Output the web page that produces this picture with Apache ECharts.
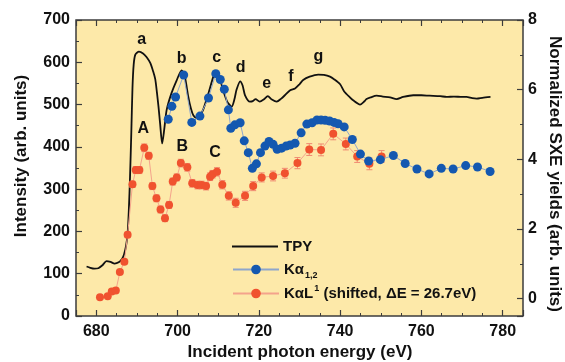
<!DOCTYPE html>
<html><head><meta charset="utf-8">
<script src="https://cdn.jsdelivr.net/npm/echarts@6/dist/echarts.min.js"></script>
<style>html,body{margin:0;padding:0;background:#fff}#c{width:565px;height:362px}</style>
</head><body><div id="c"></div>
<script>
// ---- data ----
const tpyEnergy = [677.6,678.5,679.5,680.5,681.5,682.5,683.5,684.5,685.5,686.3,686.8,687.3,687.7,688.0,688.3,688.6,688.9,689.2,689.6,690.5,691.5,692.4,693.3,694.0,694.5,694.9,695.3,695.7,696.2,696.7,697.3,698.5,699.8,701.0,701.8,702.6,703.3,703.9,704.7,705.5,706.3,707.6,708.8,709.4,710.2,711.2,712.2,713.3,714.0,714.5,715.4,716.0,716.6,717.8,718.5,719.2,720.2,721.2,722.2,723.2,724.4,725.5,726.4,727.7,728.9,730.0,730.9,732.5,734.6,736.0,737.5,738.5,740.0,741.0,742.4,743.2,744.9,746.0,746.5,747.5,749.0,750.5,752.3,753.9,755.5,758.0,760.0,762.0,764.6,766.2,768.0,770.0,771.1,772.5,773.6,775.0,777.0];
const tpyIntensity = [117,114,112,113,120,130,128,124,127,135,145,165,195,250,330,430,540,595,618,625,621,612,598,578,560,530,495,455,408,440,487,527,558,581,565,520,490,474,468,474,488,527,566,577,568,534,507,495,513,535,555,545,522,507,508,513,507,512,520,512,507,514,522,534,538,548,558,566,571,570,566,560,548,531,517,510,500,508,513,517,521,519,517,513,518,522,522,521,520,518,519,518,518,515,514,516,518];

const kaEnergy = [697.7,698.6,699.5,701.5,703.5,705.5,707.6,709.4,710.5,711.5,712.5,713.1,714.1,715.4,716.4,717.4,718.4,719.4,720.4,721.5,722.5,723.5,724.5,725.6,726.7,727.7,728.9,730.4,731.8,733.1,734.3,735.3,736.3,737.4,738.5,739.5,741.0,743.0,745.0,747.0,749.9,753.1,756.0,758.9,761.9,764.9,767.8,770.9,773.8,776.9];
const kaYield = [5.15,5.52,5.79,6.42,5.06,5.24,5.76,6.46,6.29,6.01,5.42,4.89,4.99,5.05,4.53,4.19,3.74,3.87,4.19,4.38,4.51,4.43,4.29,4.32,4.38,4.41,4.46,4.76,5.01,5.05,5.13,5.13,5.12,5.10,5.06,5.02,4.93,4.57,4.15,3.95,3.99,4.11,3.88,3.72,3.58,3.74,3.72,3.82,3.78,3.65];

const kalEnergy = [680.9,682.8,683.8,684.8,685.8,686.9,687.7,688.9,689.7,690.6,691.8,692.9,693.8,694.8,695.8,696.9,697.9,698.8,699.8,700.8,702.4,703.6,704.9,705.9,707.0,708.0,708.6,709.7,711.0,712.6,714.3,716.6,718.6,720.7,723.5,726.4,729.5,732.4,735.3,738.3,741.4,744.2,747.2,750.2];
const kalYield = [0.04,0.07,0.20,0.23,0.76,1.06,1.83,3.28,3.69,3.69,4.33,4.10,3.23,2.88,2.56,2.31,2.69,3.36,3.48,3.89,3.77,3.31,3.26,3.26,3.23,3.50,3.57,3.64,3.27,2.95,2.75,2.95,3.23,3.48,3.52,3.60,3.89,4.28,4.27,4.73,4.44,4.08,3.87,4.08];
const kalError = [0.05,0.05,0.06,0.06,0.07,0.07,0.08,0.09,0.10,0.10,
  0.11,0.10,0.10,0.10,0.10,0.10,0.10,0.10,0.10,0.11,
  0.11,0.11,0.11,0.11,0.11,0.11,0.11,0.12,0.12,0.12,
  0.13,0.13,0.13,0.13,0.14,0.14,0.16,0.17,0.17,0.17,
  0.17,0.17,0.17,0.17];

const xTickLabels = [680,700,720,740,760,780];
const leftTickLabels = [0,100,200,300,400,500,600,700];
const rightTickLabels = [0,2,4,6,8];

const seriesNames = ['TPY','Kα1,2','KαL1'];
const peakLetters = ['a','b','c','d','e','f','g'];
const shakeLetters = ['A','B','C'];
const xTitle = 'Incident photon energy (eV)';
const leftTitle = 'Intensity (arb. units)';
const rightTitle = 'Normalized SXE yields (arb. units)';

// ---- build ----
const zip = (a, b) => a.map((v, i) => [v, b[i]]);
const FONT = 'Arial, "Liberation Sans", Helvetica, sans-serif';
const AX = '#3c3c3c';
const BLUE = '#1458b0', BLUE_L = '#8ea6cc';
const RED = '#f0522f', RED_L = '#f4a38c', ERR = '#f08a72';

function majorX(pos, labels) {
  return {
    type: 'value', min: 675, max: 785, splitNumber: 5, position: pos,
    axisLine: { show: false, onZero: false },
    axisTick: { show: true, inside: true, length: 6, lineStyle: { color: AX, width: 1.2 } },
    axisLabel: labels ? {
      show: true, margin: 8, color: '#111', fontSize: 16, fontWeight: 'bold', fontFamily: FONT,
      formatter: v => (xTickLabels.indexOf(Math.round(v * 1000) / 1000) >= 0 ? String(v) : '')
    } : { show: false },
    splitLine: { show: false }
  };
}
function minorX(pos) {
  return {
    type: 'value', min: 675, max: 785, interval: 5, position: pos,
    axisLine: { show: false, onZero: false },
    axisTick: { show: true, inside: true, length: 3, lineStyle: { color: AX, width: 1 } },
    axisLabel: { show: false }, splitLine: { show: false }
  };
}

const letterPos = [[141.7,40],[181.7,59],[216.7,57.8],[240.7,67.5],[266.7,83.5],[291,76.5],[318.3,57]];
const capPos = [[143.3,128.3],[182.3,146.7],[215,152.7]];
const graphics = [];
peakLetters.forEach((t, i) => graphics.push({
  type: 'text', x: letterPos[i][0], y: letterPos[i][1], z: 100,
  style: { text: t, fill: '#111', font: 'bold 16px ' + FONT, textAlign: 'center', textVerticalAlign: 'middle' }
}));
shakeLetters.forEach((t, i) => graphics.push({
  type: 'text', x: capPos[i][0], y: capPos[i][1], z: 100,
  style: { text: t, fill: '#111', font: 'bold 16px ' + FONT, textAlign: 'center', textVerticalAlign: 'middle' }
}));
graphics.push({ type: 'text', x: 21.5, y: 156, rotation: Math.PI / 2,
  style: { text: leftTitle, fill: '#111', font: 'bold 17px ' + FONT, textAlign: 'center', textVerticalAlign: 'middle' } });
graphics.push({ type: 'text', x: 555, y: 174, rotation: -Math.PI / 2,
  style: { text: rightTitle, fill: '#111', font: 'bold 17px ' + FONT, textAlign: 'center', textVerticalAlign: 'middle' } });
graphics.push({ type: 'text', x: 300, y: 352,
  style: { text: xTitle, fill: '#111', font: 'bold 17px ' + FONT, textAlign: 'center', textVerticalAlign: 'middle' } });

const legendText = { color: '#111', fontSize: 15, fontWeight: 'bold', fontFamily: FONT,
  rich: {
    b: { fontSize: 15, fontWeight: 'bold', fontFamily: FONT, color: '#111' },
    sub: { fontSize: 9, fontWeight: 'bold', fontFamily: FONT, color: '#111', padding: [12, 0, 0, 1] },
    sup: { fontSize: 9, fontWeight: 'bold', fontFamily: FONT, color: '#111', padding: [0, 0, 10, 1] }
  } };
function legendFmt(name) {
  if (name === seriesNames[1]) return '{b|Kα}{sub|1,2}';
  if (name === seriesNames[2]) return '{b|KαL}{sup|1}{b| (shifted, ΔE = 26.7eV)}';
  return '{b|' + name + '}';
}
function legendAt(name, top, extra) {
  return Object.assign({ data: [name], left: 232, top: top, orient: 'vertical', padding: 0, itemGap: 0,
    itemWidth: 46, itemHeight: 12, textStyle: legendText, formatter: legendFmt, selectedMode: false }, extra || {});
}

const option = {
  animation: false,
  backgroundColor: '#ffffff',
  grid: { left: 76, right: 42, top: 20, bottom: 46, show: true,
    backgroundColor: '#fde9a9', borderColor: AX, borderWidth: 1.5, containLabel: false },
  legend: [
    legendAt(seriesNames[0], 239, { icon: 'rect', itemHeight: 2, itemStyle: { color: '#111' } }),
    legendAt(seriesNames[1], 262),
    legendAt(seriesNames[2], 284)
  ],
  xAxis: [majorX('bottom', true), minorX('bottom'), majorX('top', false), minorX('top')],
  yAxis: [
    { type: 'value', min: 0, max: 700, interval: 100, position: 'left',
      axisLine: { show: false, onZero: false },
      axisTick: { show: true, inside: true, length: 6, lineStyle: { color: AX, width: 1.2 } },
      minorTick: { show: true, splitNumber: 2, length: 3, lineStyle: { color: AX, width: 1 } },
      axisLabel: { show: true, margin: 6, color: '#111', fontSize: 16, fontWeight: 'bold', fontFamily: FONT,
        formatter: v => (leftTickLabels.indexOf(v) >= 0 ? String(v) : '') },
      splitLine: { show: false } },
    { type: 'value', min: -0.5, max: 8, splitNumber: 4, position: 'right',
      axisLine: { show: false, onZero: false },
      axisTick: { show: true, inside: true, length: 6, lineStyle: { color: AX, width: 1.2 } },
      axisLabel: { show: true, margin: 5, color: '#111', fontSize: 16, fontWeight: 'bold', fontFamily: FONT,
        formatter: v => (rightTickLabels.indexOf(Math.round(v * 1000) / 1000) >= 0 ? String(v) : '') },
      splitLine: { show: false } },
    { type: 'value', min: -0.5, max: 8, splitNumber: 8, position: 'right',
      axisLine: { show: false, onZero: false },
      axisTick: { show: true, inside: true, length: 3, lineStyle: { color: AX, width: 1 } },
      axisLabel: { show: false }, splitLine: { show: false } }
  ],
  series: [
    { name: seriesNames[0], type: 'line', xAxisIndex: 0, yAxisIndex: 0, data: zip(tpyEnergy, tpyIntensity),
      symbol: 'none', smooth: 0.25, lineStyle: { color: '#111', width: 1.8 }, itemStyle: { color: '#111' }, z: 3 },
    { name: 'err', type: 'custom', xAxisIndex: 0, yAxisIndex: 1,
      data: kalEnergy.map((e, i) => [e, kalYield[i], kalError[i]]),
      encode: { x: 0, y: 1 }, z: 4, silent: true,
      renderItem: function (params, api) {
        const x = api.value(0), y = api.value(1), er = api.value(2);
        const t = api.coord([x, y + er]), b = api.coord([x, y - er]);
        const hw = 3, st = { stroke: ERR, lineWidth: 1 };
        return { type: 'group', children: [
          { type: 'line', shape: { x1: t[0], y1: t[1], x2: b[0], y2: b[1] }, style: st },
          { type: 'line', shape: { x1: t[0] - hw, y1: t[1], x2: t[0] + hw, y2: t[1] }, style: st },
          { type: 'line', shape: { x1: b[0] - hw, y1: b[1], x2: b[0] + hw, y2: b[1] }, style: st }
        ] };
      } },
    { name: seriesNames[2], type: 'line', xAxisIndex: 0, yAxisIndex: 1, data: zip(kalEnergy, kalYield),
      symbol: 'circle', symbolSize: 8, showSymbol: true, lineStyle: { color: RED_L, width: 1 },
      itemStyle: { color: RED }, z: 5 },
    { name: seriesNames[1], type: 'line', xAxisIndex: 0, yAxisIndex: 1, data: zip(kaEnergy, kaYield),
      symbol: 'circle', symbolSize: 9, showSymbol: true, lineStyle: { color: BLUE_L, width: 1 },
      itemStyle: { color: BLUE }, z: 6 }
  ],
  graphic: graphics
};
const chart = echarts.init(document.getElementById('c'), null, { renderer: 'canvas' });
chart.setOption(option);
</script></body></html>
